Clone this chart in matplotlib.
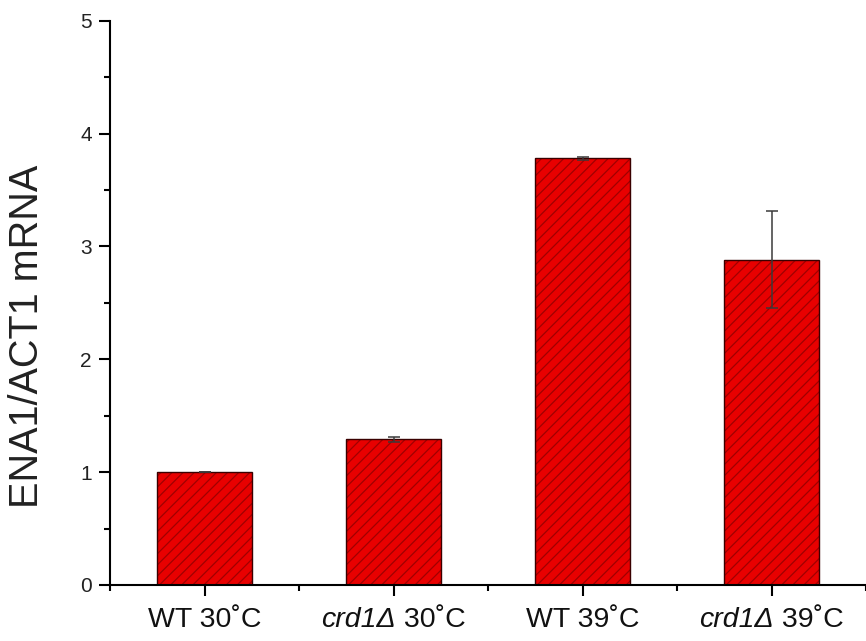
import matplotlib
matplotlib.use('Agg')
import matplotlib.pyplot as plt
from matplotlib.offsetbox import TextArea, HPacker, AnnotationBbox
import numpy as np

# ---- data ----
label_italic = ["", "crd1Δ", "", "crd1Δ"]
label_plain = ["WT 30˚C", " 30˚C", "WT 39˚C", " 39˚C"]
values = [1.00, 1.29, 3.78, 2.88]
errors = [0.0, 0.02, 0.01, 0.43]
yticks = [0, 1, 2, 3, 4, 5]
ylabel = "ENA1/ACT1 mRNA"

plt.rcParams['font.family'] = ['Liberation Sans', 'DejaVu Sans']
plt.rcParams['hatch.linewidth'] = 0.9

W, H = 866, 641
fig = plt.figure(figsize=(W / 100, H / 100), dpi=100)
ax = fig.add_axes([110 / W, 1 - 585 / H, 1 - 110 / W, (585 - 20.7) / H])

x = np.arange(1, len(values) + 1)
# hatched fill
ax.bar(x, values, width=0.5, color='#e80000', edgecolor='#a00000',
       linewidth=0, hatch='///', zorder=2)
# outline + error bars
ax.bar(x, values, width=0.5, fill=False, edgecolor='#3a0000', linewidth=1.0,
       yerr=errors, zorder=3,
       error_kw=dict(ecolor='#3a3a3a', elinewidth=1.1, capsize=4, capthick=1.1))

ax.set_xlim(0.5, 4.5)
ax.set_ylim(0, 5)
ax.set_yticks(yticks)
ax.set_yticks(np.arange(0.5, 5, 1.0), minor=True)
ax.set_xticks(x)
ax.set_xticks(np.arange(0.5, 4.6, 1.0), minor=True)
ax.set_xticklabels([])

for s in ['top', 'right']:
    ax.spines[s].set_visible(False)
for s in ['left', 'bottom']:
    ax.spines[s].set_linewidth(1.5)
    ax.spines[s].set_zorder(4)

ax.tick_params(axis='both', which='major', direction='out', length=8, width=1.5,
               color='black')
ax.tick_params(axis='both', which='minor', direction='out', length=4.5, width=1.5,
               color='black')
ax.tick_params(axis='y', which='major', labelsize=15, pad=5, labelcolor='#222222')

ax.set_ylabel(ylabel, fontsize=28.5, va='center', color='#222222')
ax.yaxis.set_label_coords((27 - 110) / (W - 110), 0.441)

for xi, it, pl in zip(x, label_italic, label_plain):
    parts = []
    if it:
        parts.append(TextArea(it, textprops=dict(fontsize=20.5, style='italic', color='#111111')))
    parts.append(TextArea(pl, textprops=dict(fontsize=20.5, color='#111111')))
    box = HPacker(children=parts, align='baseline', pad=0, sep=0)
    ab = AnnotationBbox(box, (xi, 0), xycoords=('data', 'axes fraction'),
                        xybox=(0, -15.5), boxcoords='offset points',
                        box_alignment=(0.5, 1), frameon=False, pad=0,
                        annotation_clip=False)
    ax.add_artist(ab)

fig.savefig('out.png', dpi=100)
